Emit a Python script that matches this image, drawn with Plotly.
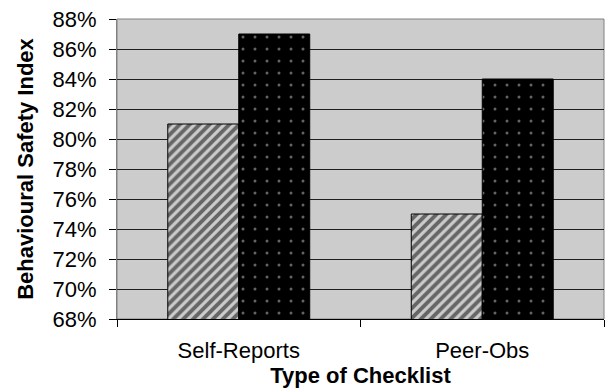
import plotly.graph_objects as go

# Checklist types and the two measured series (fractions of 1)
categories = ["Self-Reports", "Peer-Obs"]
series_hatched = [0.81, 0.75]
series_dotted = [0.87, 0.84]

# Value axis ticks
y_ticks = [0.68, 0.70, 0.72, 0.74, 0.76, 0.78, 0.80, 0.82, 0.84, 0.86, 0.88]

FONT = "Liberation Sans, Arial, sans-serif"
PLOT_BG = "#CCCCCC"

fig = go.Figure()

fig.add_trace(go.Bar(
    name="Series 1",
    x=categories,
    y=series_hatched,
    marker=dict(
        color=PLOT_BG,
        line=dict(color="black", width=1),
        pattern=dict(shape="/", size=7, solidity=0.55,
                     fgcolor="black", bgcolor=PLOT_BG, fillmode="overlay"),
    ),
))

fig.add_trace(go.Bar(
    name="Series 2",
    x=categories,
    y=series_dotted,
    marker=dict(
        color="black",
        line=dict(color="black", width=1),
        pattern=dict(shape=".", size=12, solidity=0.05,
                     fgcolor="#C8C8C8", bgcolor="black", fillmode="overlay"),
    ),
))

fig.update_layout(
    width=611,
    height=389,
    margin=dict(l=117, r=7, t=15, b=70),
    paper_bgcolor="white",
    plot_bgcolor=PLOT_BG,
    barmode="group",
    bargap=0.417,
    bargroupgap=0,
    showlegend=False,
    font=dict(family=FONT, size=22, color="black"),
    shapes=[dict(
        type="rect", xref="paper", yref="paper", x0=0, x1=1, y0=0, y1=1,
        line=dict(color="#808080", width=1), layer="below",
    )],
)

fig.update_xaxes(
    type="category",
    showline=True,
    linecolor="black",
    linewidth=1,
    ticks="outside",
    tickson="boundaries",
    ticklen=7,
    tickcolor="black",
    tickfont=dict(family=FONT, size=22),
    ticklabelstandoff=12,
    showgrid=False,
    title=dict(text="<b>Type of Checklist</b>",
               font=dict(family=FONT, size=22), standoff=0),
)

fig.update_yaxes(
    range=[0.68, 0.88],
    tickvals=y_ticks,
    tickformat=".0%",
    showline=True,
    linecolor="#808080",
    linewidth=1,
    ticks="outside",
    ticklen=7,
    tickcolor="black",
    tickfont=dict(family=FONT, size=22),
    ticklabelstandoff=8,
    showgrid=True,
    gridcolor="#1E1E1E",
    gridwidth=1,
    zeroline=False,
    title=dict(text="<b>Behavioural Safety Index</b>",
               font=dict(family=FONT, size=22), standoff=12),
)

fig.write_html("out.html")
